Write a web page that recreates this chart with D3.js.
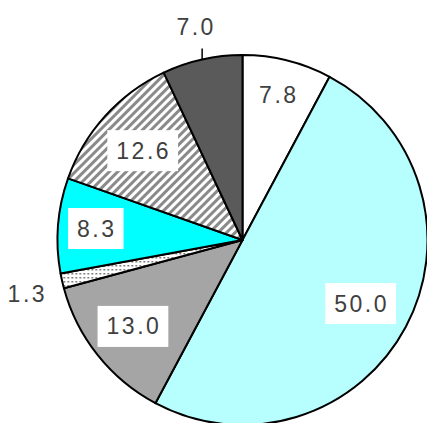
<!DOCTYPE html>
<html>
<head>
	<title>Pie</title>
	<script src="https://d3js.org/d3.v7.min.js"></script>
	<style>
		body { margin: 0; background: #fff; }
		text { font-family: 'Liberation Sans', Arial, sans-serif; font-size: 23px; fill: #404040; letter-spacing: 2.5px; }
	</style>
</head>
<body>
<script type="text/javascript">
	// slices clockwise from 12 o'clock
	var values = [7.8, 50.0, 13.0, 1.3, 8.3, 12.6, 7.0];
	var labels = ['7.8', '50.0', '13.0', '1.3', '8.3', '12.6', '7.0'];
	var fills = ['#ffffff', '#b7ffff', '#a5a5a5', 'url(#dots)', '#00ffff', 'url(#hatch)', '#5a5a5a'];
	// label placement: 'in' = boxed label inside, 'out' = outside
	var placement = ['in', 'in', 'in', 'out', 'in', 'in', 'out'];
	// label distance from centre, as a share of the radius
	var labelDist = [0.81, 0.73, 0.75, 1, 0.79, 0.72, 1];

	var width = 427, height = 423;
	var cx = 242.5, cy = 240, R = 185;

	var svg = d3.select('body').append('svg')
		.attr('width', width)
		.attr('height', height);

	var defs = svg.append('defs');
	var hatch = defs.append('pattern')
		.attr('id', 'hatch')
		.attr('patternUnits', 'userSpaceOnUse')
		.attr('width', 6).attr('height', 6)
		.attr('patternTransform', 'rotate(45)');
	hatch.append('rect').attr('width', 6).attr('height', 6).attr('fill', '#ffffff');
	hatch.append('rect').attr('width', 3).attr('height', 6).attr('fill', '#8a8a8a');

	var dots = defs.append('pattern')
		.attr('id', 'dots')
		.attr('patternUnits', 'userSpaceOnUse')
		.attr('width', 4).attr('height', 4);
	dots.append('rect').attr('width', 4).attr('height', 4).attr('fill', '#ffffff');
	dots.append('rect').attr('x', 1).attr('y', 1).attr('width', 1.5).attr('height', 1.5).attr('fill', '#555');

	var pie = d3.pie().sort(null).value(function(d) { return d; });
	var arcs = pie(values);
	var arc = d3.arc().innerRadius(0).outerRadius(R);

	var g = svg.append('g').attr('transform', 'translate(' + cx + ',' + cy + ')');

	g.selectAll('.slice')
		.data(arcs)
		.enter()
		.append('path')
		.attr('class', 'slice')
		.attr('d', arc)
		.attr('fill', function(d, i) { return fills[i]; })
		.attr('stroke', '#000')
		.attr('stroke-width', 2)
		.attr('stroke-linejoin', 'round');

	arcs.forEach(function(d, i) {
		var a = (d.startAngle + d.endAngle) / 2;
		if (placement[i] == 'in') {
			// inside labels with white boxes
			var r = R * labelDist[i];
			var lg = g.append('g').attr('transform', 'translate(' + (Math.sin(a) * r) + ',' + (-Math.cos(a) * r) + ')');
			var t = lg.append('text')
				.attr('text-anchor', 'middle')
				.attr('dy', '0.35em')
				.text(labels[i]);
			var bb = t.node().getBBox();
			lg.insert('rect', 'text')
				.attr('x', bb.x - 9)
				.attr('y', -20.5)
				.attr('width', bb.width + 16)
				.attr('height', 41)
				.attr('fill', '#ffffff');
		}
		else {
			var px = Math.sin(a) * R, py = -Math.cos(a) * R;
			if (Math.cos(a) > 0.8) {
				// top: short tick with label above
				g.append('line')
					.attr('x1', px).attr('y1', py)
					.attr('x2', px).attr('y2', py - 11)
					.attr('stroke', '#000').attr('stroke-width', 1.5);
				g.append('text')
					.attr('x', px - 6).attr('y', py - 24)
					.attr('text-anchor', 'middle')
					.text(labels[i]);
			}
			else {
				g.append('text')
					.attr('x', px - 15).attr('y', py + 21)
					.attr('text-anchor', 'end')
					.text(labels[i]);
			}
		}
	});
</script>
</body>
</html>
